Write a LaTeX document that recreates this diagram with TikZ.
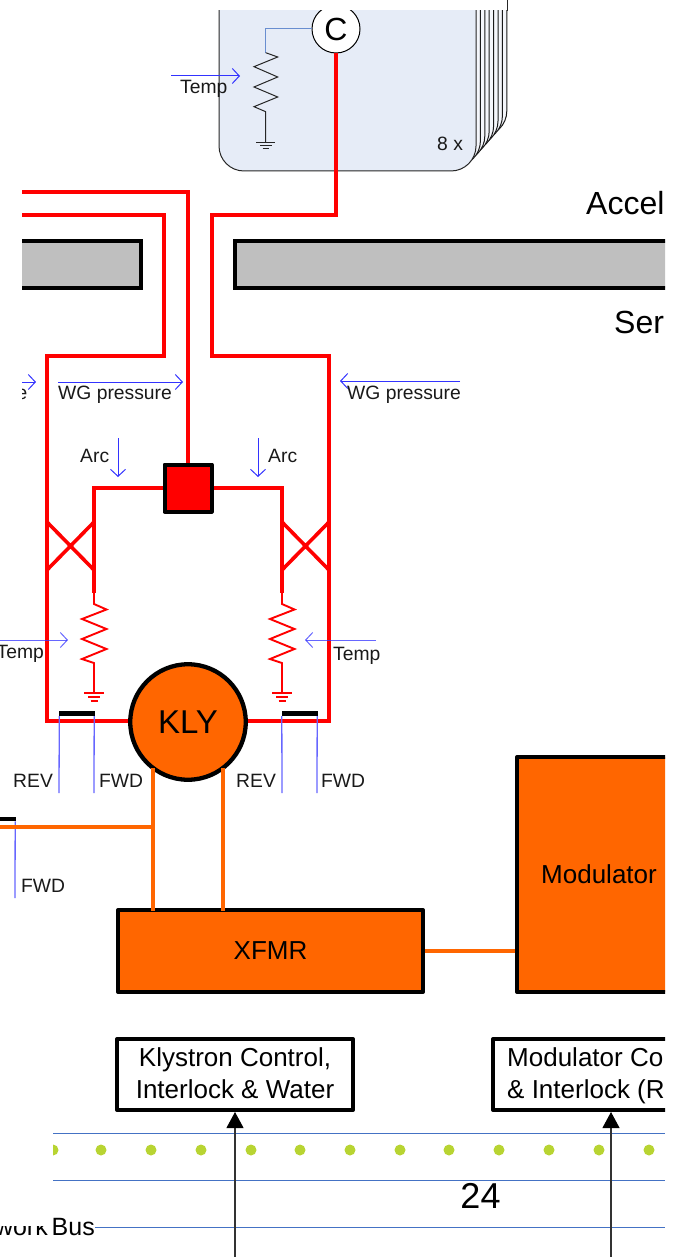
\documentclass[tikz,border=0pt]{standalone}
\usepackage{fontspec}
\setmainfont{Liberation Sans}
\usetikzlibrary{arrows.meta}
\newcommand{\fsz}[1]{\fontsize{#1}{#1}\selectfont}
\definecolor{klyorange}{HTML}{FF6600}
\definecolor{panelblue}{HTML}{E6ECF7}
\definecolor{busblue}{HTML}{4472C4}
\definecolor{dotgreen}{HTML}{B8D432}
\definecolor{barb}{HTML}{3333FF}
\definecolor{barbl}{HTML}{6666FF}
\definecolor{wgray}{HTML}{BFBFBF}
\tikzset{
  x=1pt,y=-1pt,
  redthick/.style={draw=red,line width=4.3pt,line join=miter},
  redmid/.style={draw=red,line width=3.3pt},
  redthin/.style={draw=red,line width=1.9pt,line join=miter},
  orangewire/.style={draw=klyorange,line width=3.8pt},
  sensor/.style={draw=barb,line width=1pt,-{Straight Barb[length=7pt,width=15pt,line width=1pt]}},
  pickup/.style={draw=barbl,line width=1.3pt},
  coupler/.style={fill=black,draw=none},
  label19/.style={inner sep=0pt,font=\fsz{19.3},text=black!90},
  heavybox/.style={draw=black,line width=4pt,inner sep=0pt,line join=round},
  graybar/.style={fill=wgray,draw=black,line width=4pt},
  busline/.style={draw=busblue,line width=1pt},
  busdot/.style={fill=dotgreen,draw=none},
  inputarrow/.style={draw=black!80,line width=1.1pt,-{Triangle[length=16pt,width=17pt,color=black]}},
  gndred/.style={draw=red,line width=1.7pt},
  gndblack/.style={draw=black!85,line width=.8pt},
}
\begin{document}
\begin{tikzpicture}
\useasboundingbox (0,0) rectangle (677,1257);
\begin{scope}
\clip (0,0) rectangle (665,1257);

% ---- cavity panel stack
\begin{scope}
\clip (0,11) rectangle (665,400);
\foreach \i in {7,6,...,1}{
  \draw[fill=panelblue!45!white,draw=black!90,line width=1pt,rounded corners=25pt,xshift=4.4*\i pt,yshift=5*\i pt]
    (219,-40) -- (219,171) -- (476,171) -- (476,-40) -- cycle;
}
\draw[fill=panelblue,draw=black!85,line width=1pt,rounded corners=25pt]
  (219,-40) -- (219,171) -- (476,171) -- (476,-40) -- cycle;
\node[circle,draw=black,fill=white,line width=1pt,minimum size=48pt,inner sep=0pt,font=\fsz{32}] (C) at (336,29) {C};
\end{scope}
\coordinate (stackT) at (507,0);
\coordinate (stackB) at (507,11);
\draw[black!85,line width=1pt] (stackT) -- (stackB);

% panel resistor
\coordinate (pr0) at (265.7,29);
\coordinate (pr1) at (265.7,52.7);
\coordinate (pg) at (265.7,142);
\draw[draw=busblue!80,line width=1pt] (C.west) -- (pr0) -- (pr1);
\draw[black!85,line width=1pt,line join=miter] (pr1) -- (277.7,57) -- (254,66.7) -- (277.7,77) -- (254,87) -- (277.7,97) -- (254,106.7) -- (265.7,111.7) -- (pg);
\draw[gndblack] (256,142) -- (275,142) (260,145.5) -- (271.5,145.5) (262.5,148) -- (269,148);
\node[inner sep=0pt,anchor=base west,font=\fsz{19.3},text=black!90] (eightx) at (437,151) {8 x};

% ---- wall bars
\begin{scope}
\clip (22,200) rectangle (665,300);
\node[graybar,minimum width=160pt,minimum height=47pt,inner sep=0pt] (barL) at (61,264.5) {};
\node[graybar,minimum width=500pt,minimum height=47pt,inner sep=0pt,anchor=west] (barR) at (233,264.5) {};
\end{scope}
\node[inner sep=0pt,anchor=base west,font=\fsz{32}] (accel) at (586,215) {Accel};
\node[inner sep=0pt,anchor=base west,font=\fsz{32}] (ser) at (614,333) {Ser};

% ---- named waypoints
\coordinate (r1a) at (336,215);
\coordinate (r1b) at (212,215);
\coordinate (r1c) at (212,356);
\coordinate (r1d) at (329,356);
\coordinate (r1e) at (329,721);
\coordinate (lA) at (22,192);
\coordinate (lB) at (188,192);
\coordinate (lC) at (22,215);
\coordinate (lD) at (164,215);
\coordinate (lE) at (164,356);
\coordinate (lF) at (47,356);
\coordinate (lG) at (47,721);

% ---- hybrid, klystron
\node[heavybox,fill=red,minimum size=47pt] (hyb) at (188,488) {};
\node[circle,draw=black,fill=klyorange,line width=4.3pt,minimum size=115.5pt,inner sep=0pt,font=\fsz{33}] (KLY) at (188,722) {KLY};

% ---- waveguides
\draw[redthick] (C.south) -- (r1a) -- (r1b) -- (r1c) -- (r1d) -- (r1e) -- (KLY.east |- r1e);
\draw[redthick] (lA) -- (lB) -- (hyb.north);
\draw[redthick] (lC) -- (lD) -- (lE) -- (lF) -- (lG) -- (KLY.west |- lG);

\coordinate (lt) at (94,488);
\coordinate (lb) at (94,593);
\coordinate (rt) at (282,488);
\coordinate (rb) at (282,593);
\draw[redmid,line join=miter] (hyb.west) -- (lt) -- (lb);
\draw[redmid,line join=miter] (hyb.east) -- (rt) -- (rb);
\draw[redthick,line width=3.8pt] (lt |- 0,522) -- (lb |- 0,570);
\draw[redthick,line width=3.8pt] (rt |- 0,522) -- (rb |- 0,570);
% bow ties
\draw[redthick,line width=3.6pt] (47,522) -- (94,570) (47,570) -- (94,522);
\draw[redthick,line width=3.6pt] (282,522) -- (329,570) (282,570) -- (329,522);
% red resistors & grounds
\foreach \cx in {94,282}{
 \draw[redthin] (\cx,593) -- (\cx,604) -- (\cx+12.5,609.5) -- (\cx-12,619) -- (\cx+12.5,629) -- (\cx-12,639) -- (\cx+12.5,649) -- (\cx-12,659) -- (\cx,663) -- (\cx,693);
 \draw[gndred] (\cx-10,693) -- (\cx+10,693) (\cx-6,697) -- (\cx+6,697) (\cx-3.5,701) -- (\cx+3.5,701);
}

% ---- couplers
\node[coupler,minimum width=36pt,minimum height=5pt,inner sep=0pt] (cpL) at (77,713.5) {};
\node[coupler,minimum width=36pt,minimum height=5pt,inner sep=0pt] (cpR) at (299.5,713.5) {};
\node[coupler,minimum width=16pt,minimum height=4.5pt,inner sep=0pt] (cpO) at (8,819) {};
\coordinate (p1) at (59,793); \coordinate (p2) at (94,793);
\coordinate (p3) at (282,793); \coordinate (p4) at (317,793);
\coordinate (p5) at (15,898);
\draw[pickup] (cpL.south west) ++(.5,0) -- (p1);
\draw[pickup] (cpL.south east) ++(-1,0) -- (p2);
\draw[pickup] (cpR.south west) ++(.5,0) -- (p3);
\draw[pickup] (cpR.south east) ++(-.5,0) -- (p4);
\draw[pickup] (cpO.south east) ++(-1,0) -- (p5);
\node[label19,anchor=base west] (rev1) at (13,787) {REV};
\node[label19,anchor=base west] (fwd1) at (99,787) {FWD};
\node[label19,anchor=base west] (rev2) at (236,787) {REV};
\node[label19,anchor=base west] (fwd2) at (321,787) {FWD};
\node[label19,anchor=base west] (fwd3) at (21,892) {FWD};

% ---- sensor arrows & labels
\coordinate (s1a) at (171,76); \coordinate (s1b) at (240,76);
\draw[sensor] (s1a) -- (s1b);
\node[label19,anchor=base west] (t1) at (180,93.5) {Temp};
\coordinate (s2a) at (22,382); \coordinate (s2b) at (36,382);
\draw[sensor] (s2a) -- (s2b);
\begin{scope}
\clip (22,370) rectangle (60,410);
\node[label19,anchor=base east] (wgcut) at (27.5,399) {e};
\end{scope}
\coordinate (s3a) at (58,382); \coordinate (s3b) at (183,382);
\draw[sensor] (s3a) -- (s3b);
\node[label19,anchor=base west] (wg1) at (58,399) {WG pressure};
\coordinate (s4a) at (460,381); \coordinate (s4b) at (340,381);
\draw[sensor] (s4a) -- (s4b);
\node[label19,anchor=base west] (wg2) at (347,399) {WG pressure};
\coordinate (s5a) at (118,438); \coordinate (s5b) at (118,477);
\draw[sensor] (s5a) -- (s5b);
\node[label19,anchor=base west] (arc1) at (80,462.7) {Arc};
\coordinate (s6a) at (258,438); \coordinate (s6b) at (258,477);
\draw[sensor] (s6a) -- (s6b);
\node[label19,anchor=base west] (arc2) at (268,462.7) {Arc};
\coordinate (s7a) at (0,640); \coordinate (s7b) at (68,640);
\draw[sensor,draw opacity=.75] (s7a) -- (s7b);
\node[label19,anchor=base east] (t2) at (44,658) {Temp};
\coordinate (s8a) at (376,640); \coordinate (s8b) at (305,640);
\draw[sensor,draw opacity=.75] (s8a) -- (s8b);
\node[label19,anchor=base west] (t3) at (333,660) {Temp};

% ---- transformer, modulator
\node[heavybox,fill=klyorange,minimum width=305pt,minimum height=82pt,font=\fsz{26}] (XFMR) at (270.5,951) {XFMR};
\node[heavybox,fill=klyorange,minimum width=300pt,minimum height=235pt,anchor=north west] (MOD) at (515,755) {};
\node[inner sep=0pt,anchor=base west,font=\fsz{26}] (modlab) at (541,883) {Modulator};
\coordinate (o1) at (153,768); \coordinate (o2) at (153,911);
\coordinate (o3) at (223,768); \coordinate (o4) at (223,911);
\coordinate (o5) at (0,827); \coordinate (o6) at (153,827);
\draw[orangewire] (o1) -- (o2);
\draw[orangewire] (o3) -- (o4);
\draw[orangewire,line width=3.2pt] (o5) -- (o6);
\draw[orangewire] (XFMR.east |- 0,951) -- (MOD.west |- 0,951);

% ---- control boxes
\node[heavybox,fill=white,minimum width=236pt,minimum height=71pt] (KC) at (235,1074.5) {};
\node[inner sep=0pt,anchor=base,font=\fsz{26}] (kc1) at (235,1066.5) {Klystron Control,};
\node[inner sep=0pt,anchor=base,font=\fsz{26}] (kc2) at (235,1098) {Interlock \& Water};
\node[heavybox,fill=white,minimum width=300pt,minimum height=71pt,anchor=west] (MC) at (491,1074.5) {};
\node[inner sep=0pt,anchor=base west,font=\fsz{26}] (mc1) at (507,1066.5) {Modulator Co};
\node[inner sep=0pt,anchor=base west,font=\fsz{26}] (mc2) at (507,1098) {\& Interlock (R};

% ---- bus
\coordinate (b1a) at (53,1133.5); \coordinate (b1b) at (665,1133.5);
\coordinate (b2a) at (53,1180.5); \coordinate (b2b) at (665,1180.5);
\coordinate (b3b) at (665,1227.5);
\draw[busline] (b1a) -- (b1b);
\draw[busline] (b2a) -- (b2b);
\begin{scope}
\clip (53,1135) rectangle (665,1170);
\foreach \dx in {53,101,151,201,251,300,350,400,449,499,549,599,649}
  \fill[busdot] (\dx,1150) circle[radius=5.5pt];
\end{scope}
\node[inner sep=0pt,anchor=base west,font=\fsz{25}] (bus) at (51.5,1235) {Bus};
\draw[busline] (bus.east |- b3b) -- (b3b);
\begin{scope}
\clip (0,1226.5) rectangle (50,1245);
\node[inner sep=0pt,anchor=base east,font=\fsz{25}] (work) at (48,1235) {work};
\end{scope}
\node[inner sep=0pt,anchor=base,font=\fsz{36}] (pg24) at (480.5,1208) {24};
\coordinate (in1) at (235,1257); \coordinate (in2) at (611,1257);
\draw[inputarrow] (in1) -- (KC.south);
\draw[inputarrow] (in2) -- (MC.south -| in2);
\end{scope}
\end{tikzpicture}
\end{document}
